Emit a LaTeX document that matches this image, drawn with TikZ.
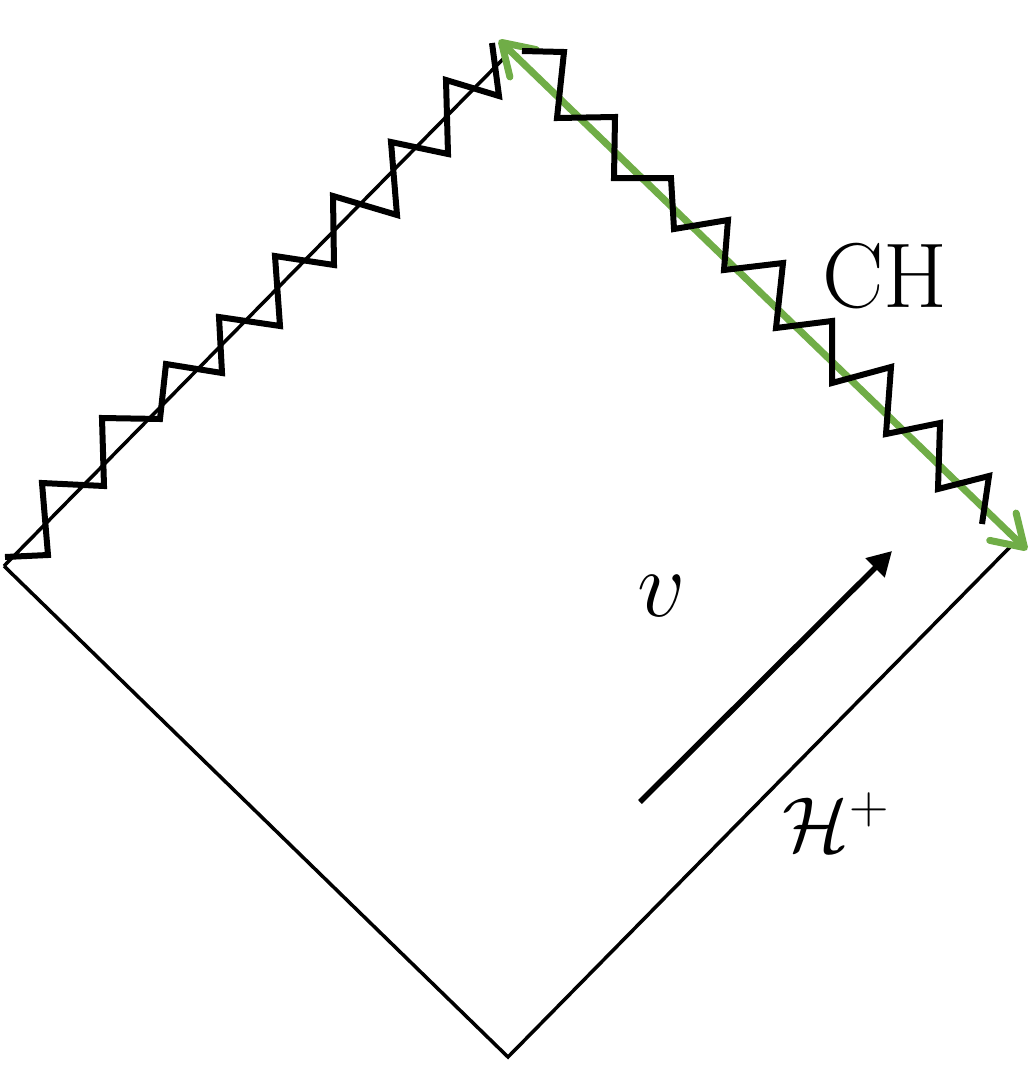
\RequirePackage{fix-cm}
\documentclass[tikz,border=0pt]{standalone}
\usetikzlibrary{arrows.meta}
\definecolor{chgreen}{HTML}{70AD47}
\begin{document}
\begin{tikzpicture}[x=1pt,y=-1pt,
  edge/.style={draw=black,line width=3.5pt,line join=miter},
  zig/.style={draw=black,line width=6pt,line join=miter},
  chline/.style={draw=chgreen,line width=7pt,
    {Straight Barb[length=30pt,width=38pt,line cap=round,line join=round]}-{Straight Barb[length=30pt,width=38pt,line cap=round,line join=round]}},
  varrow/.style={draw=black,line width=5.5pt,-{Triangle[length=24pt,width=26pt]}},
  lbl/.style={inner sep=0pt,anchor=center}]
\useasboundingbox (0,0) rectangle (1033,1066);
% diamond vertices
\coordinate (L) at (4,566);
\coordinate (B) at (508,1057);
\coordinate (R) at (1010,547);
\coordinate (T) at (505,57);
% green arrow ends
\coordinate (G1) at (499,40);
\coordinate (G2) at (1027,550);
% v arrow
\coordinate (V1) at (640,802);
\coordinate (V2) at (892,551);

\draw[edge] (L) -- (B) -- (R);
\draw[edge] (L) -- (T);

\draw[chline] (G1) -- (G2);

% left singular zigzag
\draw[zig] (5,557) -- (48,555) -- (42,483) -- (104,486) -- (102,418) -- (160,419)
  -- (166,364) -- (222,373) -- (219,317) -- (280,326) -- (275,256) -- (334,265)
  -- (333,196) -- (397,215) -- (391,142) -- (448,154) -- (446,80) -- (499,96) -- (492,43);
% right zigzag along CH
\draw[zig] (522,51) -- (564,52) -- (557,118) -- (615,117) -- (614,178) -- (671,178)
  -- (674,229) -- (728,220) -- (724,270) -- (783,263) -- (776,328) -- (832,321)
  -- (832,383) -- (891,367) -- (886,434) -- (940,423) -- (938,489) -- (989,476) -- (982,524);

\draw[varrow] (V1) -- (V2);

\node[lbl] (ch) at (885,276) {\fontsize{92}{100}\selectfont CH};
\node[lbl] (v) at (662,596) {\fontsize{95}{100}\selectfont $v$};
\node[lbl] (hp) at (836,822) {\fontsize{78}{86}\selectfont $\mathcal{H}^{+}$};
\end{tikzpicture}
\end{document}
